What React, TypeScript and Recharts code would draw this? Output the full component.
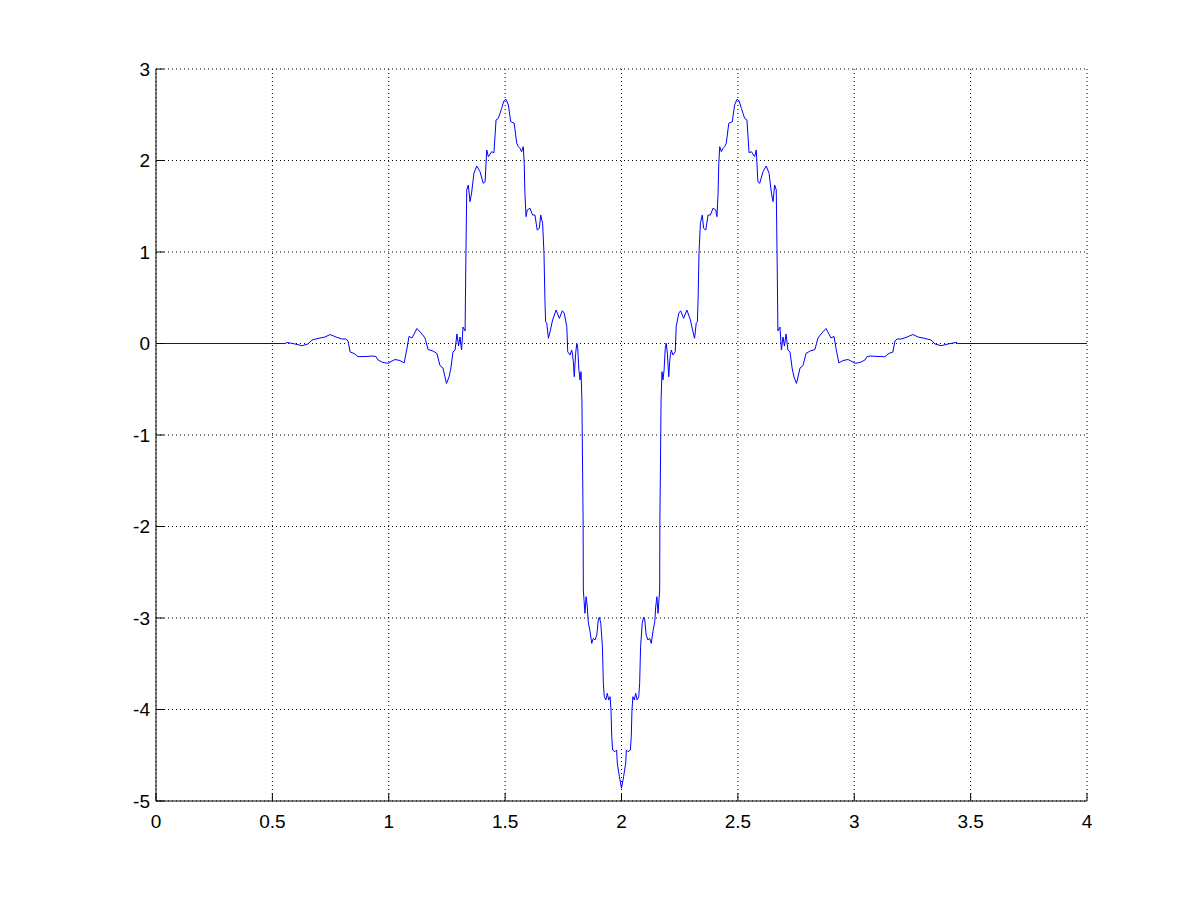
import React from 'react';
import { LineChart, Line, XAxis, YAxis, CartesianGrid } from 'recharts';

// Left half of the curve (x from 0 to 2)
const xLeft = [
  0, 0.554, 0.563, 0.597, 0.627, 0.653, 0.670, 0.696, 0.726, 0.748,
  0.778, 0.799, 0.816, 0.825, 0.834, 0.851, 0.868, 0.902, 0.928, 0.945,
  0.954, 0.975, 0.997, 1.014, 1.027, 1.048, 1.066, 1.078, 1.087, 1.100,
  1.121, 1.139, 1.156, 1.169, 1.190, 1.207, 1.220, 1.233, 1.248, 1.259,
  1.267, 1.276, 1.285, 1.293, 1.300, 1.306, 1.313, 1.319, 1.328, 1.331,
  1.335, 1.342, 1.349, 1.356, 1.366, 1.378, 1.392, 1.406, 1.414, 1.421,
  1.428, 1.442, 1.452, 1.461, 1.471, 1.478, 1.485, 1.495, 1.504, 1.514,
  1.524, 1.539, 1.550, 1.557, 1.564, 1.571, 1.578, 1.582, 1.585, 1.590,
  1.595, 1.607, 1.618, 1.628, 1.638, 1.647, 1.653, 1.661, 1.667, 1.671,
  1.674, 1.679, 1.686, 1.693, 1.704, 1.719, 1.733, 1.746, 1.754, 1.765,
  1.769, 1.779, 1.786, 1.790, 1.793, 1.797, 1.803, 1.808, 1.812, 1.817,
  1.822, 1.826, 1.830, 1.832, 1.835, 1.836, 1.839, 1.843, 1.848, 1.853,
  1.857, 1.865, 1.872, 1.879, 1.886, 1.894, 1.900, 1.905, 1.911, 1.918,
  1.922, 1.926, 1.933, 1.939, 1.945, 1.951, 1.955, 1.958, 1.962, 1.972,
  1.979, 1.982, 1.991, 2.000,
];
const yLeft = [
  0, 0, 0.011, -0.005, -0.024, -0.005, 0.038, 0.055, 0.071, 0.098,
  0.066, 0.049, 0.049, 0.027, -0.093, -0.109, -0.144, -0.142, -0.137, -0.142,
  -0.180, -0.208, -0.216, -0.191, -0.175, -0.186, -0.213, -0.060, 0.077, 0.060,
  0.164, 0.115, 0.060, -0.066, -0.082, -0.109, -0.240, -0.268, -0.437, -0.366,
  -0.268, -0.093, -0.071, 0.104, -0.027, 0.071, -0.071, 0.180, 0.137, 0.839,
  1.678, 1.732, 1.550, 1.645, 1.860, 1.940, 1.878, 1.751, 1.768, 2.115,
  2.042, 2.096, 2.085, 2.443, 2.461, 2.516, 2.570, 2.654, 2.669, 2.607,
  2.424, 2.407, 2.188, 2.151, 2.133, 2.096, 2.151, 1.969, 1.642, 1.386,
  1.459, 1.478, 1.404, 1.404, 1.240, 1.259, 1.404, 1.314, 0.986, 0.475,
  0.238, 0.221, 0.057, 0.129, 0.257, 0.366, 0.275, 0.358, 0.330, 0.184,
  -0.090, -0.126, -0.071, -0.126, -0.199, -0.363, -0.107, 0.002, -0.052, -0.290,
  -0.399, -0.308, -0.617, -1.164, -1.929, -2.694, -2.803, -2.949, -2.767, -2.877,
  -3.040, -3.150, -3.277, -3.222, -3.240, -3.186, -3.022, -2.992, -3.058, -3.314,
  -3.714, -3.860, -3.896, -3.823, -3.896, -3.860, -4.005, -4.297, -4.443, -4.461,
  -4.443, -4.588, -4.734, -4.861,
];

// Right half of the curve (x from 2 to 4)
const xRight = [
  2.009, 2.018, 2.021, 2.028, 2.038, 2.042, 2.045, 2.049, 2.055, 2.061,
  2.067, 2.074, 2.078, 2.082, 2.089, 2.095, 2.100, 2.106, 2.114, 2.121,
  2.128, 2.135, 2.143, 2.147, 2.152, 2.157, 2.161, 2.164, 2.165, 2.168,
  2.170, 2.174, 2.178, 2.183, 2.188, 2.192, 2.197, 2.203, 2.207, 2.210,
  2.214, 2.221, 2.231, 2.235, 2.246, 2.254, 2.267, 2.281, 2.296, 2.307,
  2.314, 2.321, 2.326, 2.329, 2.333, 2.339, 2.347, 2.353, 2.362, 2.372,
  2.382, 2.393, 2.405, 2.410, 2.415, 2.418, 2.422, 2.429, 2.436, 2.443,
  2.450, 2.461, 2.476, 2.486, 2.496, 2.505, 2.515, 2.522, 2.529, 2.539,
  2.548, 2.558, 2.572, 2.579, 2.586, 2.594, 2.608, 2.622, 2.634, 2.644,
  2.651, 2.658, 2.665, 2.669, 2.672, 2.681, 2.687, 2.694, 2.700, 2.707,
  2.715, 2.724, 2.733, 2.741, 2.752, 2.767, 2.780, 2.793, 2.810, 2.831,
  2.844, 2.861, 2.879, 2.900, 2.913, 2.922, 2.934, 2.952, 2.973, 2.986,
  3.003, 3.025, 3.046, 3.055, 3.072, 3.098, 3.132, 3.149, 3.166, 3.175,
  3.184, 3.201, 3.222, 3.252, 3.274, 3.304, 3.330, 3.347, 3.373, 3.403,
  3.437, 3.446, 4,
];
const yRight = [
  -4.734, -4.588, -4.443, -4.461, -4.443, -4.297, -4.005, -3.860, -3.896, -3.823,
  -3.896, -3.860, -3.714, -3.314, -3.058, -2.992, -3.022, -3.186, -3.240, -3.222,
  -3.277, -3.150, -3.040, -2.877, -2.767, -2.949, -2.803, -2.694, -1.929, -1.164,
  -0.617, -0.308, -0.399, -0.290, -0.052, 0.002, -0.107, -0.363, -0.199, -0.126,
  -0.071, -0.126, -0.090, 0.184, 0.330, 0.358, 0.275, 0.366, 0.257, 0.129,
  0.057, 0.221, 0.238, 0.475, 0.986, 1.314, 1.404, 1.259, 1.240, 1.404,
  1.404, 1.478, 1.459, 1.386, 1.642, 1.969, 2.151, 2.096, 2.133, 2.151,
  2.188, 2.407, 2.424, 2.607, 2.669, 2.654, 2.570, 2.516, 2.461, 2.443,
  2.085, 2.096, 2.042, 2.115, 1.768, 1.751, 1.878, 1.940, 1.860, 1.645,
  1.550, 1.732, 1.678, 0.839, 0.137, 0.180, -0.071, 0.071, -0.027, 0.104,
  -0.071, -0.093, -0.268, -0.366, -0.437, -0.268, -0.240, -0.109, -0.082, -0.066,
  0.060, 0.115, 0.164, 0.060, 0.077, -0.060, -0.213, -0.186, -0.175, -0.191,
  -0.216, -0.208, -0.180, -0.142, -0.137, -0.142, -0.144, -0.109, -0.093, 0.027,
  0.049, 0.049, 0.066, 0.098, 0.071, 0.055, 0.038, -0.005, -0.024, -0.005,
  0.011, 0, 0,
];

const xTicks = [0, 0.5, 1, 1.5, 2, 2.5, 3, 3.5, 4];
const xTickLabels = ['0', '0.5', '1', '1.5', '2', '2.5', '3', '3.5', '4'];
const yTicks = [-5, -4, -3, -2, -1, 0, 1, 2, 3];
const yTickLabels = ['-5', '-4', '-3', '-2', '-1', '0', '1', '2', '3'];

const xs = [...xLeft, ...xRight];
const ys = [...yLeft, ...yRight];
const data = xs.map((x, i) => ({ x, y: ys[i] }));

const FONT = '"Liberation Sans", Arial, Helvetica, sans-serif';
const FONT_SIZE = 19;
const TICK_LEN = 8;

const BottomTick = (props: any) => {
  const { x, y, payload } = props;
  const idx = xTicks.indexOf(payload.value);
  return (
    <g>
      <line x1={x} y1={y} x2={x} y2={y - TICK_LEN} stroke="#000" strokeWidth={1} />
      <text x={x} y={y + 27} textAnchor="middle" fontFamily={FONT} fontSize={FONT_SIZE} fill="#000">
        {idx >= 0 ? xTickLabels[idx] : String(payload.value)}
      </text>
    </g>
  );
};

const TopTick = (props: any) => {
  const { x, y } = props;
  return <line x1={x} y1={y} x2={x} y2={y + TICK_LEN} stroke="#000" strokeWidth={1} />;
};

const LeftTick = (props: any) => {
  const { x, y, payload } = props;
  const idx = yTicks.indexOf(payload.value);
  return (
    <g>
      <line x1={x} y1={y} x2={x + TICK_LEN} y2={y} stroke="#000" strokeWidth={1} />
      <text x={x - 6} y={y} dy="0.36em" textAnchor="end" fontFamily={FONT} fontSize={FONT_SIZE} fill="#000">
        {idx >= 0 ? yTickLabels[idx] : String(payload.value)}
      </text>
    </g>
  );
};

const RightTick = (props: any) => {
  const { x, y } = props;
  return <line x1={x} y1={y} x2={x - TICK_LEN} y2={y} stroke="#000" strokeWidth={1} />;
};

export default function App() {
  return (
    <div style={{ position: 'absolute', left: 0, top: 0, width: 1201, height: 901, background: '#fff' }}>
      <LineChart
        width={1201}
        height={901}
        data={data}
        margin={{ top: 69, right: 114, bottom: 0, left: 0 }}
      >
        <CartesianGrid
          stroke="#000"
          strokeDasharray="1 3"
          strokeWidth={1}
          xAxisId="bottom"
          yAxisId="left"
        />
        <XAxis
          xAxisId="bottom"
          dataKey="x"
          type="number"
          domain={[0, 4]}
          ticks={xTicks}
          interval={0}
          orientation="bottom"
          height={100}
          tickSize={0}
          tickMargin={0}
          tickLine={false}
          axisLine={{ stroke: '#000', strokeWidth: 1 }}
          tick={<BottomTick />}
          allowDataOverflow
        />
        <XAxis
          xAxisId="top"
          dataKey="x"
          type="number"
          domain={[0, 4]}
          ticks={xTicks}
          interval={0}
          orientation="top"
          height={0}
          tickSize={0}
          tickMargin={0}
          tickLine={false}
          axisLine={false}
          tick={<TopTick />}
          allowDataOverflow
        />
        <YAxis
          yAxisId="left"
          type="number"
          domain={[-5, 3]}
          ticks={yTicks}
          interval={0}
          orientation="left"
          width={156}
          tickSize={0}
          tickMargin={0}
          tickLine={false}
          axisLine={{ stroke: '#000', strokeWidth: 1 }}
          tick={<LeftTick />}
          allowDataOverflow
        />
        <YAxis
          yAxisId="right"
          type="number"
          domain={[-5, 3]}
          ticks={yTicks}
          interval={0}
          orientation="right"
          width={0}
          tickSize={0}
          tickMargin={0}
          tickLine={false}
          axisLine={false}
          tick={<RightTick />}
          allowDataOverflow
        />
        <Line
          xAxisId="bottom"
          yAxisId="left"
          type="linear"
          dataKey="y"
          stroke="#0000ff"
          strokeWidth={1}
          dot={false}
          activeDot={false}
          isAnimationActive={false}
        />
      </LineChart>
    </div>
  );
}
